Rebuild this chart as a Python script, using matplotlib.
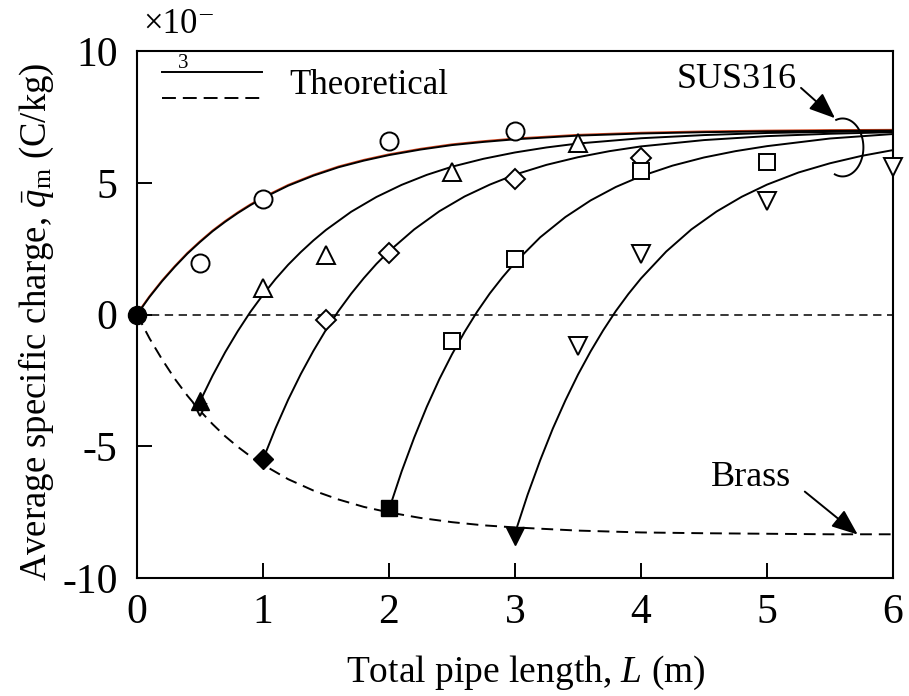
import matplotlib
matplotlib.use("Agg")
import numpy as np
import matplotlib.pyplot as plt
from matplotlib.lines import Line2D
import matplotlib.transforms as mtransforms

plt.rcParams['font.family'] = ['Liberation Serif', 'DejaVu Serif']
plt.rcParams['mathtext.fontset'] = 'custom'
plt.rcParams['mathtext.rm'] = 'Liberation Serif'
plt.rcParams['mathtext.it'] = 'Liberation Serif:italic'
plt.rcParams['axes.unicode_minus'] = False
plt.rcParams['lines.scale_dashes'] = False

# measured points (x10^-3 C/kg)
L_circ = [0.5, 1, 2, 3]
q_circ = [1.95, 4.4, 6.6, 6.95]
L_tri = [1, 1.5, 2.5, 3.5]
q_tri = [1.0, 2.25, 5.4, 6.5]
L_dia = [1.5, 2, 3, 4]
q_dia = [-0.2, 2.35, 5.15, 5.95]
L_sq = [2.5, 3, 4, 5]
q_sq = [-1.0, 2.1, 5.43, 5.8]
L_tdn = [3.5, 4, 5, 6]
q_tdn = [-1.2, 2.3, 4.3, 5.6]

# starting points (filled symbols)
L_start = [0, 0.5, 1, 2, 3]
q_start = [0, -3.3, -5.5, -7.35, -8.4]
start_markers = ['o', '^', 'D', 's', 'v']

# theoretical curves
L_c1 = [0, 0.1, 0.2, 0.3, 0.4, 0.5, 0.6, 0.7, 0.8, 0.9, 1.0, 1.2, 1.4, 1.6, 1.8, 2.0,
        2.25, 2.5, 2.75, 3.0, 3.5, 4.0, 4.5, 5.0, 5.5, 6.0]
q_c1 = [0, 0.67, 1.27, 1.81, 2.31, 2.75, 3.16, 3.52, 3.85, 4.15, 4.42, 4.89, 5.27, 5.59,
        5.84, 6.05, 6.26, 6.43, 6.55, 6.65, 6.79, 6.87, 6.92, 6.95, 6.97, 6.98]
L_c2 = [0.5, 0.6, 0.7, 0.8, 0.9, 1.0, 1.1, 1.2, 1.3, 1.4, 1.5, 1.7, 1.9, 2.1, 2.3, 2.5,
        2.75, 3.0, 3.25, 3.5, 4.0, 4.5, 5.0, 5.5, 6.0]
q_c2 = [-3.30, -2.32, -1.43, -0.63, 0.10, 0.75, 1.35, 1.89, 2.37, 2.81, 3.21, 3.90, 4.46,
        4.92, 5.30, 5.61, 5.91, 6.15, 6.34, 6.49, 6.69, 6.81, 6.89, 6.93, 6.96]
L_c3 = [1.0, 1.1, 1.2, 1.3, 1.4, 1.5, 1.6, 1.7, 1.8, 1.9, 2.0, 2.2, 2.4, 2.6, 2.8, 3.0,
        3.25, 3.5, 3.75, 4.0, 4.5, 5.0, 5.5, 6.0]
q_c3 = [-5.50, -4.31, -3.23, -2.26, -1.38, -0.58, 0.14, 0.79, 1.38, 1.92, 2.40, 3.23, 3.92,
        4.48, 4.93, 5.31, 5.68, 5.97, 6.20, 6.38, 6.62, 6.77, 6.86, 6.92]
L_c4 = [2.0, 2.1, 2.2, 2.3, 2.4, 2.5, 2.6, 2.7, 2.8, 2.9, 3.0, 3.2, 3.4, 3.6, 3.8, 4.0,
        4.25, 4.5, 4.75, 5.0, 5.5, 6.0]
q_c4 = [-7.40, -5.96, -4.67, -3.50, -2.45, -1.51, -0.66, 0.11, 0.80, 1.41, 1.97, 2.93, 3.70,
        4.33, 4.84, 5.25, 5.65, 5.96, 6.20, 6.39, 6.68, 6.85]
L_c5 = [3.0, 3.1, 3.2, 3.3, 3.4, 3.5, 3.6, 3.7, 3.8, 3.9, 4.0, 4.2, 4.4, 4.6, 4.8, 5.0,
        5.25, 5.5, 5.75, 6.0]
q_c5 = [-8.30, -6.84, -5.53, -4.33, -3.26, -2.28, -1.40, -0.60, 0.13, 0.78, 1.37, 2.39, 3.23,
        3.91, 4.47, 4.93, 5.39, 5.74, 6.02, 6.24]
L_brass = L_c1
q_brass = [0, -0.91, -1.71, -2.44, -3.08, -3.65, -4.16, -4.62, -5.02, -5.38, -5.70, -6.25,
           -6.68, -7.02, -7.30, -7.51, -7.72, -7.88, -8.00, -8.08, -8.20, -8.27, -8.30,
           -8.32, -8.34, -8.34]

fig = plt.figure(figsize=(9.09, 6.96), dpi=100)
ax = fig.add_axes([0.1507, 0.1695, 0.9824 - 0.1507, 0.9267 - 0.1695])

lw = 1.4
ax.axhline(0, color='black', lw=1.1, ls=(0, (6, 4)), zorder=1)
ax.plot(L_brass, q_brass, color='black', lw=lw, ls=(0, (8.5, 5)), zorder=2)

# faint orange trace visible along the first curve
off = mtransforms.offset_copy(ax.transData, fig=fig, x=0, y=0.6, units='points')
ax.plot(L_c1, q_c1, color='#d2451e', lw=1.3, transform=off, zorder=2)
for Lc, qc in [(L_c1, q_c1), (L_c2, q_c2), (L_c3, q_c3), (L_c4, q_c4), (L_c5, q_c5)]:
    ax.plot(Lc, qc, color='black', lw=lw, zorder=3)

mk = dict(mfc='white', mec='black', mew=1.4, ls='none', zorder=5, clip_on=False)
ax.plot([0.5], [-3.64], marker='v', ms=8.5, **mk)
ax.plot(L_circ, q_circ, marker='o', ms=13, **mk)
ax.plot(L_tri, q_tri, marker='^', ms=13, **mk)
ax.plot(L_dia, q_dia, marker='D', ms=10, **mk)
ax.plot(L_sq, q_sq, marker='s', ms=12, **mk)
ax.plot(L_tdn, q_tdn, marker='v', ms=13, **mk)
for x, y, m in zip(L_start, q_start, start_markers):
    ms = 10 if m == 'D' else (12 if m == 's' else 13)
    ax.plot([x], [y], marker=m, ms=ms, mfc='black', mec='black', ls='none',
            zorder=6, clip_on=False)

ax.set_xlim(0, 6)
ax.set_ylim(-10, 10)
ax.set_xticks(range(0, 7))
ax.set_yticks([-10, -5, 0, 5, 10])
ax.tick_params(direction='in', length=11, width=1.4, labelsize=30)
ax.tick_params(axis='x', pad=11)
ax.tick_params(axis='y', pad=14)
for s in ax.spines.values():
    s.set_linewidth(1.5)

ax.set_xlabel('Total pipe length, $L$ (m)', fontsize=27, labelpad=16, x=0.515)
ax.set_ylabel(r'Average specific charge, $\bar{q}_\mathrm{m}$ (C/kg)', fontsize=26.5,
              labelpad=4, y=0.486)

# exponent label (rendered split as in the original)
fig.text(0.158, 0.953, '\u00d710', fontsize=25, ha='left', va='baseline')
fig.text(0.219, 0.972, '\u2013', fontsize=18, ha='left', va='baseline')
fig.text(0.2015, 0.903, '3', fontsize=15, ha='center', va='baseline')

# legend
ax.add_line(Line2D([0.033, 0.166], [0.96, 0.96], color='black', lw=lw, transform=ax.transAxes))
ax.add_line(Line2D([0.033, 0.166], [0.91, 0.91], color='black', lw=lw, ls=(0, (10, 5)),
                   transform=ax.transAxes))
ax.text(0.202, 0.935, 'Theoretical', fontsize=25, transform=ax.transAxes, va='center')

# annotations
arrow = dict(arrowstyle='-|>,head_length=0.8,head_width=0.32', color='black', lw=1.4,
             shrinkA=0, shrinkB=0, mutation_scale=20)
ax.text(4.76, 8.92, 'SUS316', fontsize=26, ha='center', va='center')
ax.annotate('', xy=(5.54, 7.45), xytext=(5.27, 8.6), arrowprops=arrow)
ax.text(4.87, -6.19, 'Brass', fontsize=26, ha='center', va='center')
ax.annotate('', xy=(5.72, -8.35), xytext=(5.30, -6.72), arrowprops=arrow)

# open ring drawn around the converging SUS316 curves
t = np.radians(np.linspace(-112, 108, 80))
ax.plot(5.6 + 0.165 * np.cos(t), 6.34 + 1.1 * np.sin(t), color='black', lw=1.4, zorder=4)

fig.savefig('out.png', dpi=100)
